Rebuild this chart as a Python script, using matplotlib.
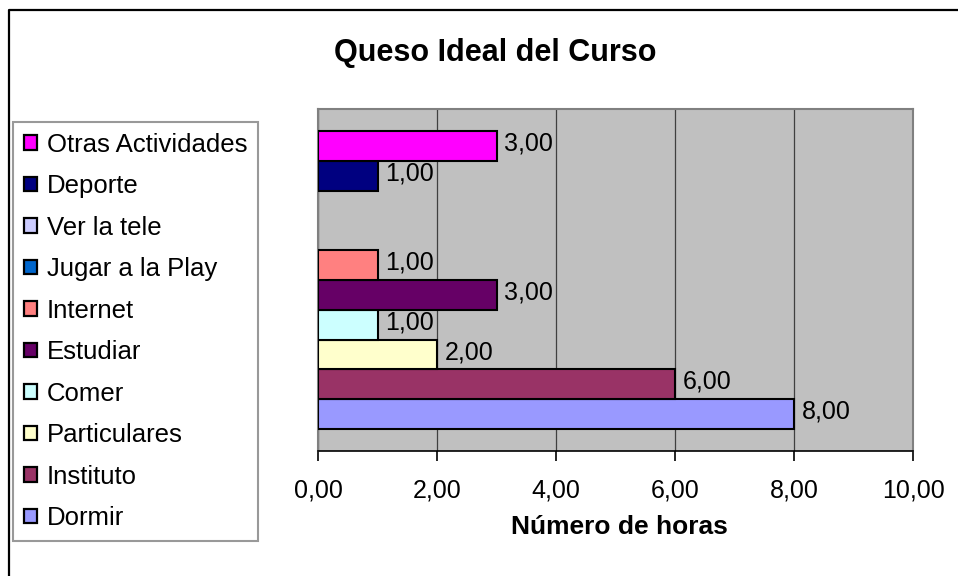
import numpy as np
import matplotlib
matplotlib.use("Agg")
import matplotlib.pyplot as plt
from matplotlib.patches import Patch
from matplotlib.lines import Line2D
from matplotlib.ticker import FuncFormatter

plt.rcParams['font.family'] = ['Liberation Sans', 'DejaVu Sans']

# series in bar order, bottom to top (empty cells = nan)
actividades = ['Dormir', 'Instituto', 'Particulares', 'Comer', 'Estudiar',
               'Internet', 'Jugar a la Play', 'Ver la tele', 'Deporte',
               'Otras Actividades']
horas = [8, 6, 2, 1, 3, 1, np.nan, np.nan, 1, 3]
colores = ['#9999FF', '#993366', '#FFFFCC', '#CCFFFF', '#660066',
           '#FF8080', '#0066CC', '#CCCCFF', '#000080', '#FF00FF']

W, H = 958, 576
fig = plt.figure(figsize=(W / 100, H / 100), dpi=100)
ax = fig.add_axes([318 / W, 1 - 451 / H, (913 - 318) / W, (451 - 109) / H])
ax.set_facecolor('#C0C0C0')

coma = lambda v: f'{v:.2f}'.replace('.', ',')

for i, (v, c) in enumerate(zip(horas, colores)):
    if np.isnan(v):
        continue
    ax.barh(i, v, height=1.0, color=c, edgecolor='black', linewidth=1.5, zorder=3)
    ax.text(v + 0.13, i + 0.08, coma(v), va='center', ha='left', fontsize=18, zorder=4)

ax.set_xlim(0, 10)
ax.set_ylim(-1.24, 10.24)
ax.set_xticks(np.arange(0, 11, 2))
ax.xaxis.set_major_formatter(FuncFormatter(lambda v, p: coma(v)))
ax.set_yticks([])
ax.grid(axis='x', color='#404040', linewidth=0.9, zorder=1)
ax.tick_params(axis='x', direction='out', length=7, width=1.2, labelsize=18, pad=13)

for s in ['top', 'right', 'left']:
    ax.spines[s].set_color('#808080')
    ax.spines[s].set_linewidth(1.5)
ax.spines['bottom'].set_color('black')
ax.spines['bottom'].set_linewidth(1.2)

fig.text(495 / W, 1 - 53 / H, 'Queso Ideal del Curso', ha='center', va='center',
         fontsize=22, fontweight='bold')
fig.text(619 / W, 1 - 527 / H, 'Número de horas', ha='center', va='center',
         fontsize=19, fontweight='bold')

# legend: top entry is the last series
handles = [Patch(facecolor=c, edgecolor='black', linewidth=1.6, label=a)
           for a, c in zip(actividades[::-1], colores[::-1])]
leg = fig.legend(handles=handles, loc='upper left',
                 bbox_to_anchor=(13 / W, 1 - 122 / H), borderaxespad=0,
                 fontsize=18.5, handlelength=0.5, handleheight=0.5,
                 handletextpad=0.4, labelspacing=0.68, borderpad=0.42,
                 fancybox=False, frameon=True)
leg.get_frame().set_edgecolor('#808080')
leg.get_frame().set_linewidth(1.5)

# outer chart frame
fig.add_artist(Line2D([8.5 / W, 8.5 / W, 1.0], [0.0, 1 - 9.5 / H, 1 - 9.5 / H],
                      transform=fig.transFigure, color='black', linewidth=1.6))

fig.savefig('out.png', dpi=100)
